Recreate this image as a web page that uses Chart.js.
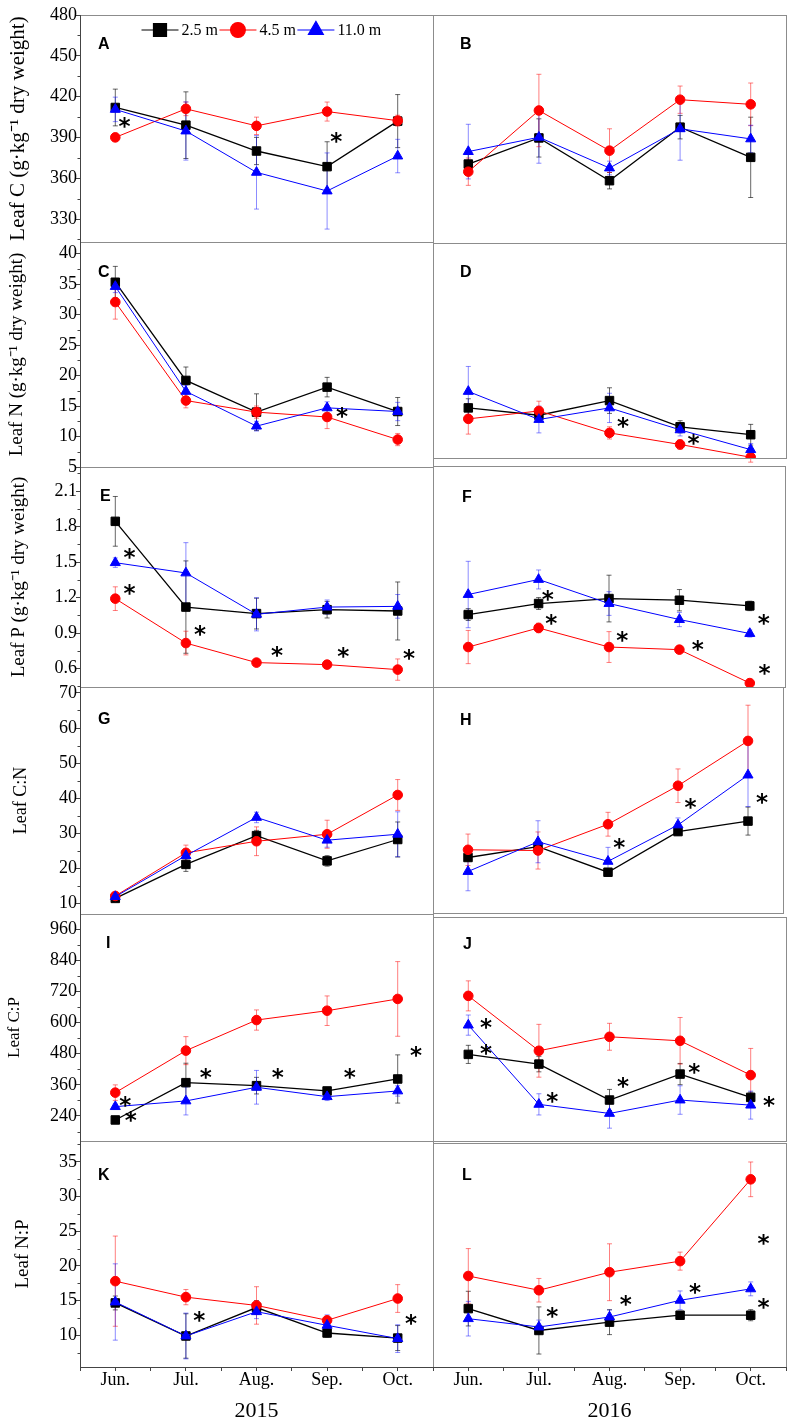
<!DOCTYPE html>
<html>
<head>
<meta charset="utf-8">
<script src="https://cdn.jsdelivr.net/npm/chart.js@4.4.1/dist/chart.umd.min.js"></script>
<style>
html,body{margin:0;padding:0;background:#fff;}
#wrap{position:relative;width:789px;height:1422px;overflow:hidden;background:#fff;}
#wrap canvas{position:absolute;}
</style>
</head>
<body>
<div id="wrap"></div>
<script>
/* ── categories / labels ── */
const months=['Jun.','Jul.','Aug.','Sep.','Oct.'];
const depths=['2.5 m','4.5 m','11.0 m'];

/* ── tick labels ── */
const ticksC=[330,360,390,420,450,480];
const ticksN=[5,10,15,20,25,30,35,40];
const ticksP=[0.6,0.9,1.2,1.5,1.8,2.1];
const ticksCN=[10,20,30,40,50,60,70];
const ticksCP=[240,360,480,600,720,840,960];
const ticksNP=[10,15,20,25,30,35];

/* ── Leaf C ── (k = 2.5 m, r = 4.5 m, b = 11.0 m; E = error) */
const A_k=[412,399,380,368.5,402],     A_kE=[13.5,24.5,10,18.3,19.5];
const A_r=[390,411,398.5,409,402.3],   A_rE=[3,5,6.4,7,4];
const A_b=[410.6,394.7,364.3,350.6,376.3], A_bE=[9,21.4,27,28,12.3];
const A_stars=[[0.13,400.4],[3.13,389.3]];

const B_k=[370.9,390,358.7,397.9,375.8], B_kE=[8,14,6,8.6,29.4];
const B_r=[365.3,410.1,380.7,418,414.6], B_rE=[10,26.5,16,10,15.6];
const B_b=[380,390.5,368,396.7,389.3],   B_bE=[20,19,5,23,10];
const B_stars=[];

/* ── Leaf N ── */
const C_k=[35.3,19.2,14.0,18.1,14.1],  C_kE=[2.6,2.2,3,1.6,2.3];
const C_r=[32.05,15.9,14.0,13.2,9.5],  C_rE=[2.8,1.2,1,1.9,1];
const C_b=[34.6,17.4,11.7,14.7,14.1],  C_bE=[1,1,0.8,1,1.5];
const C_stars=[[3.21,13.85]];

const D_k=[14.7,13.5,15.9,11.6,10.3],  D_kE=[1.5,1,2.1,1,1.7];
const D_r=[12.9,14.2,10.6,8.7,6.6],    D_rE=[2.5,1.6,1,0.8,0.8];
const D_b=[17.4,12.8,14.7,11.1,7.85],  D_bE=[4.1,2.2,2.4,1,1];
const D_stars=[[2.19,12.2],[3.19,9.5]];

/* ── Leaf P ── */
const E_k=[1.844,1.12,1.065,1.098,1.087], E_kE=[0.21,0.39,0.13,0.07,0.245];
const E_r=[1.191,0.816,0.651,0.634,0.592], E_rE=[0.1,0.1,0.02,0.03,0.09];
const E_b=[1.495,1.408,1.059,1.12,1.126],  E_bE=[0.04,0.256,0.14,0.06,0.1];
const E_stars=[[0.2,1.565],[0.2,1.261],[1.2,0.918],[2.29,0.74],[3.23,0.735],[4.16,0.712]];

const F_k=[1.056,1.149,1.191,1.177,1.129], F_kE=[0.05,0.05,0.197,0.09,0.04];
const F_r=[0.782,0.943,0.782,0.76,0.478],  F_rE=[0.14,0.04,0.13,0.03,0.02];
const F_b=[1.225,1.352,1.149,1.014,0.896], F_bE=[0.28,0.08,0.1,0.06,0.03];
const F_stars=[[1.13,1.211],[1.18,1.008],[2.19,0.867],[3.26,0.788],[4.2,1.008],[4.21,0.592]];

/* ── Leaf C:N ── */
const G_k=[11.4,21.1,29.3,22.1,28.2],  G_kE=[0.8,2,1.5,1.5,5];
const G_r=[12.1,24.4,27.7,29.7,40.9],  G_rE=[0.8,2.2,4.1,4,4.4];
const G_b=[11.9,23.6,34.5,28.0,29.7],  G_bE=[0.8,1,1.5,2,6.4];
const G_stars=[];

const H_k=[23.0,26.1,18.8,30.4,33.4],  H_kE=[1,1.5,1,1,4];
const H_r=[25.2,25.0,32.5,43.5,56.3],  H_rE=[4.5,5.3,3.4,4.8,10.2];
const H_b=[19.0,27.5,21.9,32.3,46.55], H_bE=[5.5,6,4,2,9];
const H_stars=[[2.16,26.9],[3.18,38.2],[4.2,39.6]];

/* ── Leaf C:P ── */
const I_k=[224.6,368.5,357,336.5,382.7], I_kE=[10,75,32,10,93];
const I_r=[330,492,610,646,691.4],       I_rE=[30,54,39,57,144];
const I_b=[276,298,350.7,314.5,336.5],   I_bE=[10,54,65,15,20];
const I_stars=[[0.14,295],[0.22,237],[1.28,402],[2.3,402],[3.32,402],[4.26,488]];

const J_k=[478,440.6,301.7,402,312],     J_kE=[35,30,41,41,20];
const J_r=[704,492,546,530.5,398],       J_rE=[58,102,52,90,103];
const J_b=[591,285,250,301.7,282],       J_bE=[39,41,57,55,54];
const J_stars=[[0.25,595],[0.25,494.6],[1.19,308],[2.19,366],[3.2,420],[4.26,295]];

/* ── Leaf N:P ── */
const K_k=[14.66,9.9,14.0,10.33,9.6],  K_kE=[1,3.2,1,0.6,1.8];
const K_r=[17.8,15.5,14.3,12.16,15.3], K_rE=[6.5,1.1,2.7,0.5,2];
const K_b=[14.8,9.9,13.4,11.44,9.52],  K_bE=[5.5,3.3,1,1.5,2];
const K_stars=[[1.19,12.64],[4.19,12.27]];

const L_k=[13.85,10.7,11.9,12.9,12.9], L_kE=[2.5,3.4,1.8,0.5,0.8];
const L_r=[18.56,16.5,19.1,20.7,32.5], L_rE=[3.95,1.7,4.1,1.3,2.5];
const L_b=[12.4,11.2,12.64,15.05,16.7],L_bE=[2.5,1,1,1.35,1];
const L_stars=[[4.18,23.7],[1.19,13.27],[2.23,14.95],[3.21,16.7],[4.18,14.57]];

/* ── styles ── */
const SERIF="'Liberation Serif','Times New Roman',serif";
const SANS="'Liberation Sans',Arial,sans-serif";
const STARFONT="'DejaVu Sans',sans-serif";
const COLORS=['#000000','#ff0000','#0000ff'];
const ERRCOL=['rgba(0,0,0,0.6)','rgba(255,0,0,0.5)','rgba(0,0,255,0.45)'];
const STYLES=['rect','circle','triangle'];
const RADII=[6,4.8,5.8];
const LEG_R=[9.2,7.4,8.6];
const LINEW=[1.3,1,1];
const AXIS='#444';
const FRAME='#8c8c8c';

/* ── panel layout: box = [left, top, right, bottom] in page px ── */
const panels=[
 {id:'A',col:0,box:[80,15,433,242],  range:[313.1,480],  ticks:ticksC,dec:0,title:'Leaf C (g·kg⁻¹ dry weight)',tSize:21,tPad:5.4,
  s:[A_k,A_r,A_b],e:[A_kE,A_rE,A_bE],stars:A_stars,lab:[98,34],legend:true},
 {id:'B',col:1,box:[433,15,786,243], range:[313.1,480],  s:[B_k,B_r,B_b],e:[B_kE,B_rE,B_bE],stars:B_stars,lab:[460,34]},
 {id:'C',col:0,box:[80,242,433,467], range:[5,41.9],     ticks:ticksN,dec:0,title:'Leaf N (g·kg⁻¹ dry weight)',tSize:19,tPad:5.6,
  s:[C_k,C_r,C_b],e:[C_kE,C_rE,C_bE],stars:C_stars,lab:[98,35]},
 {id:'D',col:1,box:[433,243,786,458],range:[6.48,41.76], s:[D_k,D_r,D_b],e:[D_kE,D_rE,D_bE],stars:D_stars,lab:[460,34]},
 {id:'E',col:0,box:[80,467,433,687], range:[0.445,2.303],ticks:ticksP,dec:1,title:'Leaf P (g·kg⁻¹ dry weight)',tSize:19,tPad:7.6,
  s:[E_k,E_r,E_b],e:[E_kE,E_rE,E_bE],stars:E_stars,lab:[100,34]},
 {id:'F',col:1,box:[433,466,785,687],range:[0.445,2.309],s:[F_k,F_r,F_b],e:[F_kE,F_rE,F_bE],stars:F_stars,lab:[462,36]},
 {id:'G',col:0,box:[80,687,433,914], range:[6.95,71.7],  ticks:ticksCN,dec:0,title:'Leaf C:N',tSize:18,tPad:10,
  s:[G_k,G_r,G_b],e:[G_kE,G_rE,G_bE],stars:G_stars,lab:[98,37]},
 {id:'H',col:1,box:[433,687,783,913],range:[7.15,71.7],  s:[H_k,H_r,H_b],e:[H_kE,H_rE,H_bE],stars:H_stars,lab:[460,38]},
 {id:'I',col:0,box:[80,914,433,1141],range:[143.5,1019], ticks:ticksCP,dec:0,title:'Leaf C:P',tSize:17,tPad:4,
  s:[I_k,I_r,I_b],e:[I_kE,I_rE,I_bE],stars:I_stars,lab:[106,34]},
 {id:'J',col:1,box:[433,917,786,1141],range:[143.5,1008.6],s:[J_k,J_r,J_b],e:[J_kE,J_rE,J_bE],stars:J_stars,lab:[463,32]},
 {id:'K',col:0,box:[80,1141,433,1367],range:[5.43,38],  ticks:ticksNP,dec:0,title:'Leaf N:P',tSize:19,tPad:11.6,
  s:[K_k,K_r,K_b],e:[K_kE,K_rE,K_bE],stars:K_stars,lab:[98,39],year:'2015'},
 {id:'L',col:1,box:[433,1143,786,1367],range:[5.43,37.74],s:[L_k,L_r,L_b],e:[L_kE,L_rE,L_bE],stars:L_stars,lab:[462,37],year:'2016'}
];

function markPoint(ctx,style,r,x,y){
    if (Chart.helpers && Chart.helpers.drawPoint) {
        Chart.helpers.drawPoint(ctx,{pointStyle:style,radius:r,borderWidth:1,rotation:0},x,y);
        return;
    }
    ctx.beginPath(); ctx.arc(x,y,r,0,Math.PI*2); ctx.fill();
}

const decoPlugin={
    id:'deco',
    beforeDatasetsDraw(chart) {
        // error bars under the markers
        const {ctx,scales:{x,y}}=chart;
        chart.data.datasets.forEach(ds=>{
            ctx.save();
            ctx.strokeStyle=ERRCOL[ds.sIdx]; ctx.lineWidth=1;
            ds.data.forEach((pt,j)=>{
                const err=ds.errors[j];
                if (!err) return;
                const px=x.getPixelForValue(pt.x);
                const t=y.getPixelForValue(pt.y+err), b=y.getPixelForValue(pt.y-err);
                ctx.beginPath();
                ctx.moveTo(px,t); ctx.lineTo(px,b);
                ctx.moveTo(px-2.5,t); ctx.lineTo(px+2.5,t);
                ctx.moveTo(px-2.5,b); ctx.lineTo(px+2.5,b);
                ctx.stroke();
            });
            ctx.restore();
        });
    },
    afterDraw(chart) {
        const {ctx,chartArea:ca,scales:{x,y}}=chart;
        const p=chart.options.plugins.deco.panel;
        ctx.save();
        // frame
        ctx.strokeStyle=FRAME; ctx.lineWidth=1;
        ctx.strokeRect(ca.left+0.5,ca.top+0.5,ca.right-ca.left,ca.bottom-ca.top);
        if (p.col===0) {
            ctx.strokeStyle=AXIS;
            ctx.beginPath(); ctx.moveTo(ca.left+0.5,ca.top); ctx.lineTo(ca.left+0.5,ca.bottom+1); ctx.stroke();
            // minor ticks between labelled ticks
            const t=p.ticks, step=t[1]-t[0];
            ctx.beginPath();
            for (let v=t[0]-step/2; v<=p.range[1]; v+=step) {
                if (v<p.range[0]) continue;
                const py=Math.round(y.getPixelForValue(v))+0.5;
                ctx.moveTo(ca.left-2.5,py); ctx.lineTo(ca.left,py);
            }
            ctx.stroke();
        }
        if (p.year) {
            ctx.strokeStyle=AXIS;
            ctx.beginPath(); ctx.moveTo(ca.left,ca.bottom+0.5); ctx.lineTo(ca.right+1,ca.bottom+0.5); ctx.stroke();
        }
        // panel letter
        const cv=chart.canvas;
        const ox=parseFloat(cv.style.left), oy=parseFloat(cv.style.top);
        ctx.fillStyle='#000';
        ctx.font='bold 16px '+SANS;
        ctx.textAlign='left'; ctx.textBaseline='alphabetic';
        ctx.fillText(p.id,p.lab[0]-ox,p.box[1]+p.lab[1]-oy);
        // significance stars
        ctx.font='bold 23px '+STARFONT;
        ctx.textAlign='center'; ctx.textBaseline='middle';
        p.stars.forEach(([sx,sy])=>{
            ctx.fillText('*',x.getPixelForValue(sx),y.getPixelForValue(sy)+5);
        });
        // legend (panel A only)
        if (p.legend) {
            let lx=ca.left+61.5;
            const ly=ca.top+15;
            ctx.font='16px '+SERIF;
            ctx.textAlign='left'; ctx.textBaseline='middle';
            depths.forEach((name,i)=>{
                ctx.strokeStyle=COLORS[i]; ctx.fillStyle=COLORS[i]; ctx.lineWidth=1.2;
                ctx.beginPath(); ctx.moveTo(lx,ly); ctx.lineTo(lx+37,ly); ctx.stroke();
                markPoint(ctx,STYLES[i],LEG_R[i],lx+18.5,ly);
                ctx.fillStyle='#000';
                ctx.fillText(name,lx+40,ly+1);
                lx+=40+ctx.measureText(name).width+1.5;
            });
        }
        ctx.restore();
    }
};

const wrap=document.getElementById('wrap');
const PAD_T=14, PAD_S=8, PAGE_BOTTOM=1428;

panels.forEach(p=>{
    const [bl,bt,br,bb]=p.box;
    const left=p.col===0;
    const cx=left?0:bl-PAD_S;
    const cy=bt-PAD_T;
    const cw=br+PAD_S-cx;
    const ch=p.year?PAGE_BOTTOM-cy:(bb-bt)+2*PAD_T;
    const xH=PAGE_BOTTOM-bb;

    const cv=document.createElement('canvas');
    cv.width=cw; cv.height=ch;
    cv.style.left=cx+'px'; cv.style.top=cy+'px';
    cv.style.width=cw+'px'; cv.style.height=ch+'px';
    wrap.appendChild(cv);

    const datasets=p.s.map((vals,i)=>({
        label:depths[i],
        sIdx:i,
        data:vals.map((v,j)=>({x:j,y:v})),
        errors:p.e[i],
        borderColor:COLORS[i],
        backgroundColor:COLORS[i],
        borderWidth:LINEW[i],
        pointStyle:STYLES[i],
        pointRadius:RADII[i],
        pointBorderWidth:1,
        pointBackgroundColor:COLORS[i],
        pointBorderColor:COLORS[i],
        tension:0,
        order:3-i
    }));

    const yScale=left?{
        type:'linear',position:'left',min:p.range[0],max:p.range[1],
        afterBuildTicks:s=>{s.ticks=p.ticks.map(v=>({value:v}));},
        afterFit:s=>{s.width=bl-cx;},
        ticks:{color:'#000',font:{family:SERIF,size:18},padding:-1,
            callback:v=>v.toFixed(p.dec)},
        grid:{drawOnChartArea:false,drawTicks:true,tickLength:4,color:AXIS,lineWidth:1},
        border:{display:true,color:AXIS,width:1},
        title:{display:true,text:p.title,color:'#000',font:{family:SERIF,size:p.tSize},padding:{top:p.tPad,bottom:0}}
    }:{type:'linear',display:false,min:p.range[0],max:p.range[1]};

    const xScale=p.year?{
        type:'linear',position:'bottom',min:-0.5,max:4.5,
        afterFit:s=>{s.height=xH;},
        ticks:{stepSize:0.5,autoSkip:false,maxRotation:0,color:'#000',padding:-2,
            font:{family:SERIF,size:18},
            callback:v=>Number.isInteger(v)&&v>=0?months[v]:''},
        grid:{drawOnChartArea:false,drawTicks:true,tickLength:4,color:AXIS,lineWidth:1},
        border:{display:true,color:AXIS,width:1},
        title:{display:true,text:p.year,color:'#000',font:{family:SERIF,size:22},padding:{top:0,bottom:3.8}}
    }:{type:'linear',display:false,min:-0.5,max:4.5};

    new Chart(cv.getContext('2d'),{
        type:'line',
        data:{datasets},
        options:{
            responsive:false,
            devicePixelRatio:1,
            animation:false,
            layout:{padding:{
                left:left?0:bl-cx,
                right:cw-(br-cx),
                top:PAD_T,
                bottom:p.year?0:PAD_T
            }},
            plugins:{legend:{display:false},tooltip:{enabled:false},deco:{panel:p}},
            scales:{x:xScale,y:yScale}
        },
        plugins:[decoPlugin]
    });
});
</script>
</body>
</html>
